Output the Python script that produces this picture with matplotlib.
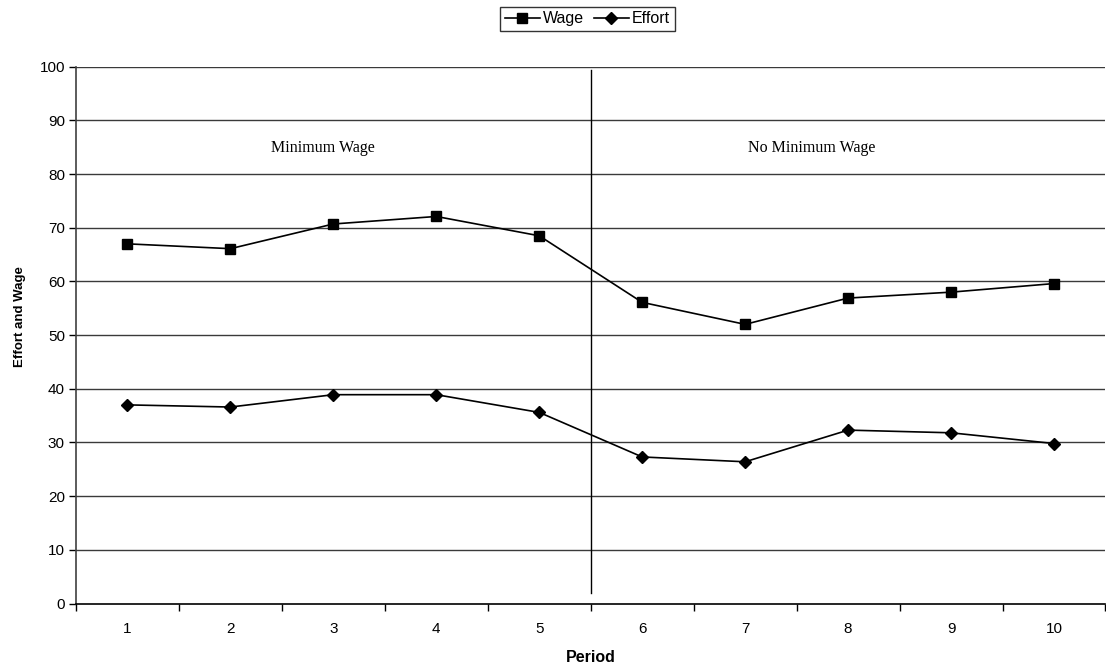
import matplotlib.pyplot as plt
from matplotlib.ticker import FixedLocator

# data
periods = [1, 2, 3, 4, 5, 6, 7, 8, 9, 10]
wage = [67.0, 66.1, 70.7, 72.1, 68.5, 56.1, 52.0, 56.9, 58.0, 59.6]
effort = [37.0, 36.6, 38.9, 38.9, 35.6, 27.3, 26.4, 32.3, 31.8, 29.8]
y_ticks = [0, 10, 20, 30, 40, 50, 60, 70, 80, 90, 100]

plt.rcParams['font.family'] = ['Liberation Sans', 'DejaVu Sans']

fig = plt.figure(figsize=(11.06, 6.66), dpi=100)
ax = fig.add_axes([76 / 1106, 1 - 603.5 / 666, 1 - 76 / 1106 - 0.0005, (603.5 - 66.7) / 666])

ax.set_xlim(0.5, 10.5)
ax.set_ylim(0, 100)

# horizontal grid
for v in y_ticks[1:]:
    ax.axhline(v, color='#3a3a3a', lw=1.0, zorder=1)

l1, = ax.plot(periods, wage, color='black', lw=1.2, marker='s', ms=6.5, zorder=3, label='Wage')
l2, = ax.plot(periods, effort, color='black', lw=1.2, marker='D', ms=6, zorder=3, label='Effort')

# divider between regimes
ax.plot([5.5, 5.5], [2, 99.3], color='black', lw=1.0, zorder=2)

ax.text(2.9, 84.8, 'Minimum Wage', family='Liberation Serif', fontsize=11.5, ha='center', va='center')
ax.text(7.65, 84.8, 'No Minimum Wage', family='Liberation Serif', fontsize=11.5, ha='center', va='center')

for s in ['top', 'right']:
    ax.spines[s].set_visible(False)
ax.spines['left'].set_color('#404040')
ax.spines['left'].set_linewidth(1.2)
ax.spines['bottom'].set_color('black')
ax.spines['bottom'].set_linewidth(1.2)

ax.set_yticks(y_ticks)
ax.tick_params(axis='y', direction='out', length=5, width=1, colors='black', labelsize=11, pad=3)

ax.xaxis.set_major_locator(FixedLocator([p - 0.5 for p in periods] + [10.5]))
ax.xaxis.set_minor_locator(FixedLocator(periods))
ax.set_xticklabels([])
ax.set_xticklabels([str(p) for p in periods], minor=True)
ax.tick_params(axis='x', which='major', direction='out', length=5, width=1)
ax.tick_params(axis='x', which='minor', length=0, labelsize=11, pad=13)

ax.set_xlabel('Period', fontsize=11.5, fontweight='bold')
ax.xaxis.set_label_coords(0.5, -0.087)
ax.set_ylabel('Effort and Wage', fontsize=9.5, fontweight='bold')
ax.yaxis.set_label_coords(-0.049, 0.534)

fig.legend(handles=[l1, l2], loc='upper center', bbox_to_anchor=(0.531, 0.99), ncol=2,
           frameon=True, fancybox=False, edgecolor='black', fontsize=11.5,
           handlelength=2.2, handletextpad=0.2, columnspacing=0.6, borderpad=0.3,
           borderaxespad=0)

fig.savefig('out.png', dpi=100)
